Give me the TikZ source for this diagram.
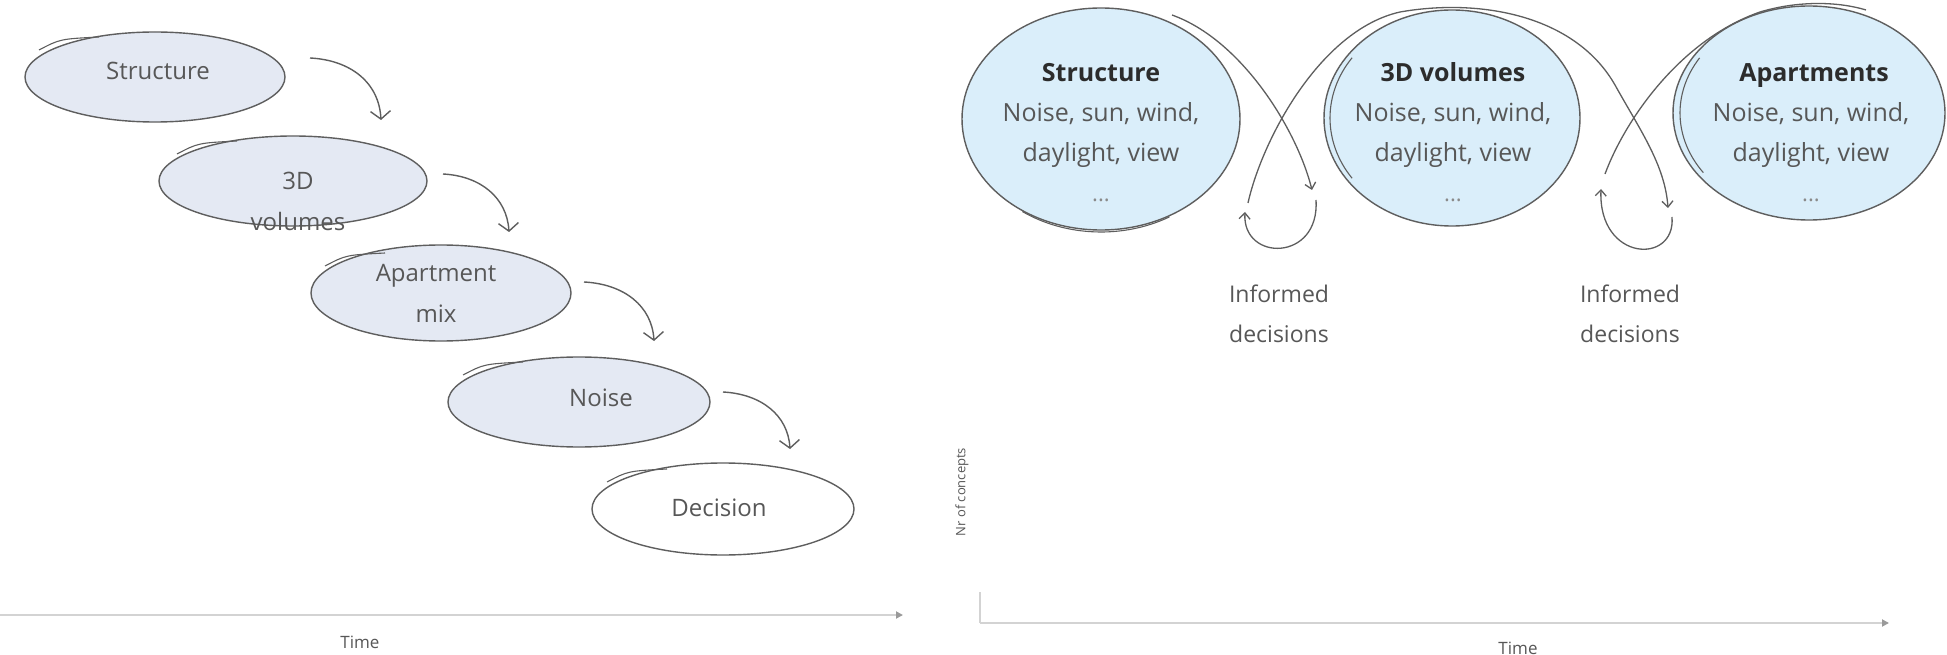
\documentclass[tikz,border=0pt]{standalone}
\usepackage{fontspec}
\setmainfont{Open Sans}
\usetikzlibrary{shapes.geometric,arrows.meta}
\definecolor{lfill}{HTML}{E4E9F3}
\definecolor{rfill}{HTML}{DAEEFA}
\definecolor{edge}{HTML}{5E5E5E}
\definecolor{txt}{HTML}{575757}
\definecolor{dark}{HTML}{2C2C2C}
\definecolor{dots}{HTML}{8A8A8A}
\definecolor{axisc}{HTML}{D3D3D3}
\definecolor{axtip}{HTML}{9A9A9A}
\newcommand{\sketcharc}[5]{\draw[sketch] ([shift={({#2*cos(#4)},{#3*sin(#4)})}]#1.center) arc[start angle=#4,end angle=#5,x radius=#2,y radius=#3];}
\newcommand{\lsketch}[1]{\draw[sketch] ([shift={(-116,-27)}]#1.center) .. controls ([shift={(-95,-38)}]#1.center) .. ([shift={(-56,-40)}]#1.center);}
\begin{document}
\begin{tikzpicture}[x=1pt,y=-1pt,
  lstage/.style={ellipse, draw=edge, line width=1.4pt, fill=lfill, inner sep=0pt, outer sep=0pt},
  rstage/.style={ellipse, draw=edge, line width=1.4pt, fill=rfill, inner sep=0pt, outer sep=0pt},
  sketch/.style={draw=edge, line width=1.1pt},
  ltext/.style={anchor=base, text=txt, inner sep=0pt, font=\fontsize{24}{28}\selectfont},
  rtitle/.style={anchor=base, text=dark, inner sep=0pt, font=\fontsize{25}{30}\selectfont\bfseries},
  rbody/.style={anchor=base, text=txt, inner sep=0pt, font=\fontsize{25}{30}\selectfont},
  rdots/.style={anchor=base, text=dots, inner sep=0pt, font=\fontsize{22}{26}\selectfont},
  note/.style={anchor=base, text=txt, inner sep=0pt, font=\fontsize{23}{28}\selectfont},
  flow/.style={draw=edge, line width=1.4pt, -{Straight Barb[length=8pt,width=20pt]}},
  loopline/.style={draw=edge, line width=1.3pt},
  looparrow/.style={draw=edge, line width=1.3pt, -{Straight Barb[length=6pt,width=11pt]}},
  axisline/.style={draw=axisc, line width=2.6pt},
  axislabel/.style={text=txt, inner sep=0pt, font=\fontsize{17}{20}\selectfont}
]
\useasboundingbox (0,0) rectangle (1947,655);
\fill[white] (0,0) rectangle (1947,655);

% ---------- left: linear process ----------
\node[lstage, minimum width=260pt, minimum height=90pt] (s1) at (155,77) {};
\node[lstage, minimum width=268pt, minimum height=90pt] (s2) at (293,181) {};
\node[lstage, minimum width=260pt, minimum height=96pt] (s3) at (441,293) {};
\node[lstage, minimum width=262pt, minimum height=90pt] (s4) at (579,402) {};
\node[lstage, fill=white, minimum width=262pt, minimum height=92pt] (s5) at (723,509) {};
\lsketch{s1}\lsketch{s2}\lsketch{s3}\lsketch{s4}\lsketch{s5}

\node[ltext] (t1) at (158,80) {Structure};
\node[ltext] (t2a) at (298,190) {3D};
\node[ltext] (t2b) at (298,231) {volumes};
\node[ltext] (t3a) at (436,281) {Apartment};
\node[ltext] (t3b) at (436,322) {mix};
\node[ltext] (t4) at (601,406) {Noise};
\node[ltext] (t5) at (719,516) {Decision};

\coordinate (a1s) at (310,58);  \coordinate (a1e) at (381,120);
\coordinate (a2s) at (443,174); \coordinate (a2e) at (509,232);
\coordinate (a3s) at (584,282); \coordinate (a3e) at (654,341);
\coordinate (a4s) at (723,392); \coordinate (a4e) at (790,449);
\draw[flow] (a1s) .. controls +(40,2) and +(-2,-38) .. (a1e);
\draw[flow] (a2s) .. controls +(38,2) and +(-2,-34) .. (a2e);
\draw[flow] (a3s) .. controls +(40,2) and +(-2,-35) .. (a3e);
\draw[flow] (a4s) .. controls +(38,2) and +(-2,-34) .. (a4e);

% left axis
\coordinate (lax0) at (0,615);
\coordinate (lax1) at (903,615);
\draw[axisline, -{Triangle[length=7pt,width=7pt,color=axtip]}] (lax0) -- (lax1);
\node[axislabel, anchor=base] (ltime) at (360,648) {Time};

% ---------- right: iterative process ----------
\node[rstage, minimum width=278pt, minimum height=222pt] (r1) at (1101,119) {};
\node[rstage, minimum width=256pt, minimum height=216pt] (r2) at (1452,118) {};
\node[rstage, minimum width=272pt, minimum height=214pt] (r3) at (1809,113) {};
\sketcharc{r1}{137}{113}{60}{125}
\sketcharc{r2}{122}{105}{145}{215}
\sketcharc{r3}{129}{104}{145}{212}

\node[rtitle] (r1t) at (1101,82) {Structure};
\node[rbody] (r1a) at (1101,122) {Noise, sun, wind,};
\node[rbody] (r1b) at (1101,162) {daylight, view};
\node[rdots] (r1c) at (1101,202) {...};
\node[rtitle] (r2t) at (1453,82) {3D volumes};
\node[rbody] (r2a) at (1453,122) {Noise, sun, wind,};
\node[rbody] (r2b) at (1453,162) {daylight, view};
\node[rdots] (r2c) at (1453,202) {...};
\node[rtitle] (r3t) at (1814,82) {Apartments};
\node[rbody] (r3a) at (1811,122) {Noise, sun, wind,};
\node[rbody] (r3b) at (1811,162) {daylight, view};
\node[rdots] (r3c) at (1811,202) {...};

% loops
\coordinate (A1s) at (1172,15);  \coordinate (A1e) at (1312,190);
\coordinate (L1s) at (1316,200); \coordinate (L1e) at (1245,212);
\coordinate (C1s) at (1248,203); \coordinate (C1m) at (1400,12); \coordinate (C1n) at (1615,85);
\coordinate (A2e) at (1668,208);
\coordinate (L2s) at (1672,217); \coordinate (L2e) at (1601,189);
\coordinate (C2s) at (1605,174); \coordinate (C2m) at (1760,12); \coordinate (C2e) at (1866,10);

\draw[looparrow] (A1s) .. controls (1242,40) and (1297,130) .. (A1e);
\draw[looparrow] (L1s) .. controls (1320,262) and (1242,262) .. (L1e);
\draw[looparrow] (C1s) .. controls (1262,140) and (1320,30) .. (C1m)
   .. controls (1480,-2) and (1575,15) .. (C1n)
   .. controls (1640,130) and (1665,165) .. (A2e);
\draw[looparrow] (L2s) .. controls (1676,265) and (1598,262) .. (L2e);
\draw[loopline] (C2s) .. controls (1625,120) and (1680,40) .. (C2m)
   .. controls (1800,0) and (1840,2) .. (C2e);

\node[note] (n1a) at (1279,302) {Informed};
\node[note] (n1b) at (1279,342) {decisions};
\node[note] (n2a) at (1630,302) {Informed};
\node[note] (n2b) at (1630,342) {decisions};

% right axes
\coordinate (rax0) at (980,592);
\coordinate (rax1) at (980,623);
\coordinate (rax2) at (1889,623);
\draw[axisline, line width=2.2pt] (rax0) -- (rax1);
\draw[axisline, -{Triangle[length=7pt,width=7pt,color=axtip]}] (rax1) -- (rax2);
\node[axislabel, anchor=base] (rtime) at (1518,654) {Time};
\node[axislabel, font=\fontsize{13}{15}\selectfont, rotate=90] (yl) at (962,492) {Nr of concepts};
\end{tikzpicture}
\end{document}
